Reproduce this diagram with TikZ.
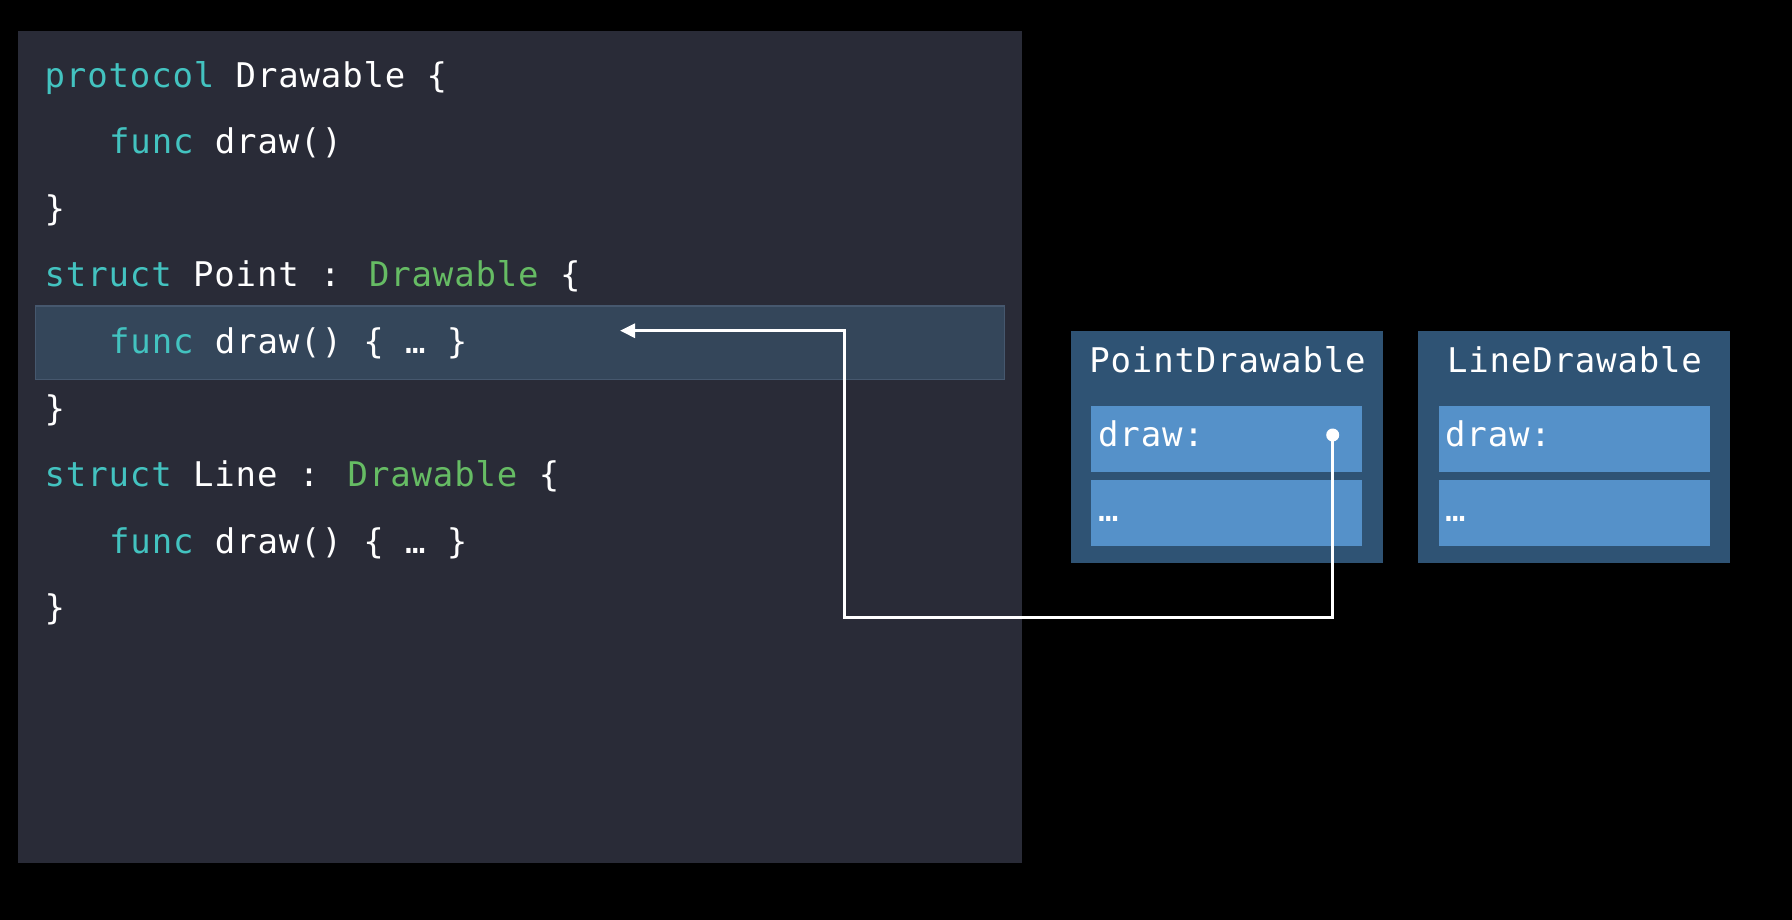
\documentclass[tikz,border=0pt]{standalone}
\usepackage{fontspec}
\newfontfamily\codefont[LetterSpace=2.5]{DejaVu Sans Mono}
\usetikzlibrary{arrows.meta}
\definecolor{panelbg}{HTML}{292B37}
\definecolor{hlfill}{HTML}{34465A}
\definecolor{hlborder}{HTML}{46586E}
\definecolor{outerbox}{HTML}{2F5374}
\definecolor{cellfill}{HTML}{5591C9}
\definecolor{kwcyan}{HTML}{43C3C0}
\definecolor{tygreen}{HTML}{66BC64}
\begin{document}
\begin{tikzpicture}[x=1pt,y=-1pt,
  codestyle/.style={font=\codefont\fontsize{34}{40}\selectfont},
  codeline/.style={codestyle, text=white, anchor=base west, inner sep=0pt},
  titletext/.style={codestyle, text=white, anchor=base, inner sep=0pt},
  outerbox/.style={fill=outerbox, draw=none, minimum width=312pt, minimum height=232pt, inner sep=0pt},
  cellbox/.style={fill=cellfill, draw=none, minimum width=271pt, minimum height=66pt, inner sep=0pt},
  link/.style={draw=white, line width=3pt, line join=miter}]
\newcommand{\kwd}[1]{\textcolor{kwcyan}{#1}}
\newcommand{\tyn}[1]{\textcolor{tygreen}{#1}}
% background
\fill[black] (0,0) rectangle (1792,920);
\useasboundingbox (0,0) rectangle (1792,920);
% code panel
\fill[panelbg] (18,31) rectangle (1022,863);
\filldraw[fill=hlfill, draw=hlborder, line width=1.2pt] (35.5,306) rectangle (1004.5,379.5);
% code lines
\node[codeline] (l1) at (44.5,87.5) {\kwd{protocol} Drawable \{};
\node[codeline] (l2) at (109,154) {\kwd{func} draw()};
\node[codeline] (l3) at (44.5,220.5) {\}};
\node[codeline] (l4) at (44.5,287) {\kwd{struct} Point : \tyn{Drawable} \{};
\node[codeline] (l5) at (109,353.5) {\kwd{func} draw() \{ … \}};
\node[codeline] (l6) at (44.5,420) {\}};
\node[codeline] (l7) at (44.5,486.5) {\kwd{struct} Line : \tyn{Drawable} \{};
\node[codeline] (l8) at (109,553) {\kwd{func} draw() \{ … \}};
\node[codeline] (l9) at (44.5,619.5) {\}};
% witness tables
\node[outerbox] (pd) at (1226.7,447) {};
\node[outerbox] (ld) at (1573.7,447) {};
\node[titletext] (pdt) at (1227.5,372.5) {PointDrawable};
\node[titletext] (ldt) at (1574.5,372.5) {LineDrawable};
\node[cellbox] (pdc1) at (1226.5,439) {};
\node[cellbox] (pdc2) at (1226.5,513) {};
\node[cellbox] (ldc1) at (1574,439) {};
\node[cellbox] (ldc2) at (1574,513) {};
\node[codeline] (pdd) at (1098,446.5) {draw:};
\node[codeline] (pde) at (1098,521) {…};
\node[codeline] (ldd) at (1445,446.5) {draw:};
\node[codeline] (lde) at (1445,521) {…};
% connector
\node[circle, fill=white, inner sep=0pt, minimum size=13pt] (dot) at (1332.7,435) {};
\coordinate (c1) at (844,617);
\coordinate (tip) at (620,330.7);
\draw[link, -{Triangle[length=15pt,width=14pt]}] (dot.center) |- (c1) |- (tip);
\end{tikzpicture}
\end{document}
